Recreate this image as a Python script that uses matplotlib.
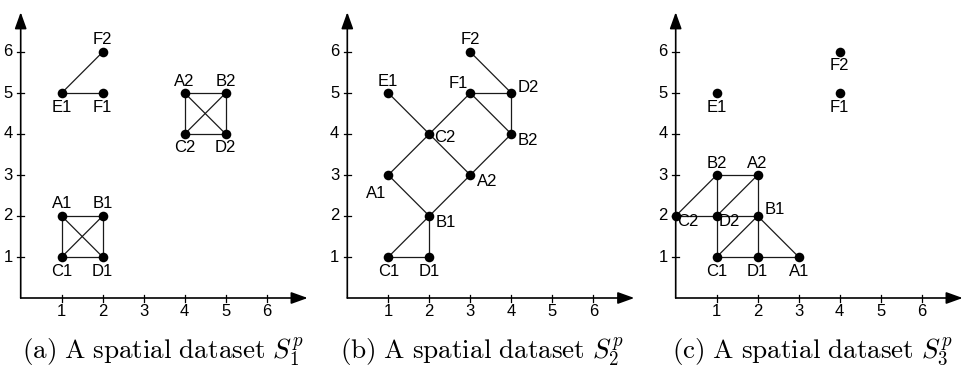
import matplotlib
matplotlib.use("Agg")
import matplotlib.pyplot as plt

plt.rcParams['mathtext.fontset'] = 'cm'

# ---------------- data ----------------
ticks = [1, 2, 3, 4, 5, 6]

# panel (a)
a_names = ["A1", "B1", "C1", "D1", "E1", "F1", "A2", "B2", "C2", "D2", "F2"]
a_x = [1, 2, 1, 2, 1, 2, 4, 5, 4, 5, 2]
a_y = [2, 2, 1, 1, 5, 5, 5, 5, 4, 4, 6]
a_pos = ["up", "up", "down", "down", "down", "down", "up", "up", "down", "down", "up"]
a_edges = [("A1", "B1"), ("A1", "C1"), ("A1", "D1"), ("B1", "C1"), ("B1", "D1"), ("C1", "D1"),
           ("E1", "F2"), ("E1", "F1"),
           ("A2", "B2"), ("A2", "C2"), ("A2", "D2"), ("B2", "C2"), ("B2", "D2"), ("C2", "D2")]

# panel (b)
b_names = ["A1", "B1", "C1", "D1", "E1", "F1", "A2", "B2", "C2", "D2", "F2"]
b_x = [1, 2, 1, 2, 1, 3, 3, 4, 2, 4, 3]
b_y = [3, 2, 1, 1, 5, 5, 3, 4, 4, 5, 6]
b_pos = ["downleft", "downright", "down", "down", "up", "upleft", "downright", "downright",
         "right", "upright", "up"]
b_edges = [("F2", "D2"), ("F1", "D2"), ("D2", "B2"), ("E1", "C2"), ("C2", "F1"), ("F1", "B2"),
           ("C2", "A1"), ("C2", "A2"), ("A2", "B2"), ("A1", "B1"), ("B1", "A2"), ("B1", "C1"),
           ("B1", "D1"), ("C1", "D1")]

# panel (c)
c_names = ["A1", "B1", "C1", "D1", "E1", "F1", "A2", "B2", "C2", "D2", "F2"]
c_x = [3, 2, 1, 2, 1, 4, 2, 1, 0, 1, 4]
c_y = [1, 2, 1, 1, 5, 5, 3, 3, 2, 2, 6]
c_pos = ["down", "upright", "down", "down", "down", "down", "up", "up",
         "downright2", "downright2", "down"]
c_edges = [("C2", "B2"), ("B2", "A2"), ("B2", "D2"), ("D2", "A2"), ("C2", "D2"), ("D2", "B1"),
           ("A2", "B1"), ("D2", "C1"), ("C1", "B1"), ("B1", "D1"), ("B1", "A1"), ("C1", "D1"),
           ("D1", "A1")]

captions = [r"$\mathrm{(a)\ A\ spatial\ dataset\ }S_1^p$",
            r"$\mathrm{(b)\ A\ spatial\ dataset\ }S_2^p$",
            r"$\mathrm{(c)\ A\ spatial\ dataset\ }S_3^p$"]

# ---------------- layout ----------------
W, H = 965, 373
fig = plt.figure(figsize=(W / 100, H / 100), dpi=100)

UNIT = 41.0
origins_x = [20.7, 347.3, 675.7]
origin_y = 298.0
caption_x = [163, 482, 812]
XMIN, XMAX = -0.3, 7.0
YMIN, YMAX = -0.3, 7.0

# offsets in pixels (dx, dy with +dy meaning up)
offsets = {
    "up": (0, 12),
    "down": (0, -14),
    "right": (16, -3),
    "upright": (17, 6),
    "downright": (17, -6.5),
    "downleft": (-12, -18),
    "upleft": (-12, 10),
    "downright2": (12.5, -5.5),
}
px2pt = 0.72

LINE_C = "#1a1a1a"
FONT = "Liberation Sans"
FS = 12

panels = [(a_names, a_x, a_y, a_pos, a_edges),
          (b_names, b_x, b_y, b_pos, b_edges),
          (c_names, c_x, c_y, c_pos, c_edges)]

for i, (names, xs, ys, pos, edges) in enumerate(panels):
    ox = origins_x[i]
    left_px = ox + XMIN * UNIT
    bottom_px = H - (origin_y - YMIN * UNIT)
    ax = fig.add_axes([left_px / W, bottom_px / H,
                       (XMAX - XMIN) * UNIT / W, (YMAX - YMIN) * UNIT / H])
    ax.set_xlim(XMIN, XMAX)
    ax.set_ylim(YMIN, YMAX)
    ax.axis("off")

    # axes arrows
    arrow_style = "-|>,head_length=1.0,head_width=0.36"
    ax.annotate("", xy=(7.0, 0), xytext=(0, 0),
                arrowprops=dict(arrowstyle=arrow_style, mutation_scale=10, color="black",
                                lw=1.2, shrinkA=0, shrinkB=0), annotation_clip=False)
    ax.annotate("", xy=(0, 6.97), xytext=(0, 0),
                arrowprops=dict(arrowstyle=arrow_style, mutation_scale=10, color="black",
                                lw=1.2, shrinkA=0, shrinkB=0), annotation_clip=False)
    tl = 3.5 / UNIT
    for t in ticks:
        ax.plot([t, t], [-tl, tl], color="black", lw=0.9, clip_on=False)
        ax.plot([-tl, tl], [t, t], color="black", lw=0.9, clip_on=False)
        ax.annotate(str(t), (t, 0), xytext=(0, -14 * px2pt), textcoords="offset points",
                    ha="center", va="center", fontsize=FS, family=FONT, annotation_clip=False)
        ax.annotate(str(t), (0, t), xytext=(-8 * px2pt, 0), textcoords="offset points",
                    ha="right", va="center", fontsize=FS, family=FONT, annotation_clip=False)

    idx = {n: k for k, n in enumerate(names)}
    for p, q in edges:
        ax.plot([xs[idx[p]], xs[idx[q]]], [ys[idx[p]], ys[idx[q]]],
                color=LINE_C, lw=0.9, solid_capstyle="butt", zorder=2, clip_on=False)
    ax.scatter(xs, ys, s=48, color="black", zorder=3, clip_on=False, linewidths=0)
    for n, x, y, pz in zip(names, xs, ys, pos):
        dx, dy = offsets[pz]
        ax.annotate(n, (x, y), xytext=(dx * px2pt, dy * px2pt), textcoords="offset points",
                    ha="center", va="center", fontsize=FS, family=FONT, annotation_clip=False)

    fig.text(caption_x[i] / W, 1 - 352 / H, captions[i], ha="center", va="center",
             fontsize=19.5)

fig.savefig("out.png", dpi=100)
